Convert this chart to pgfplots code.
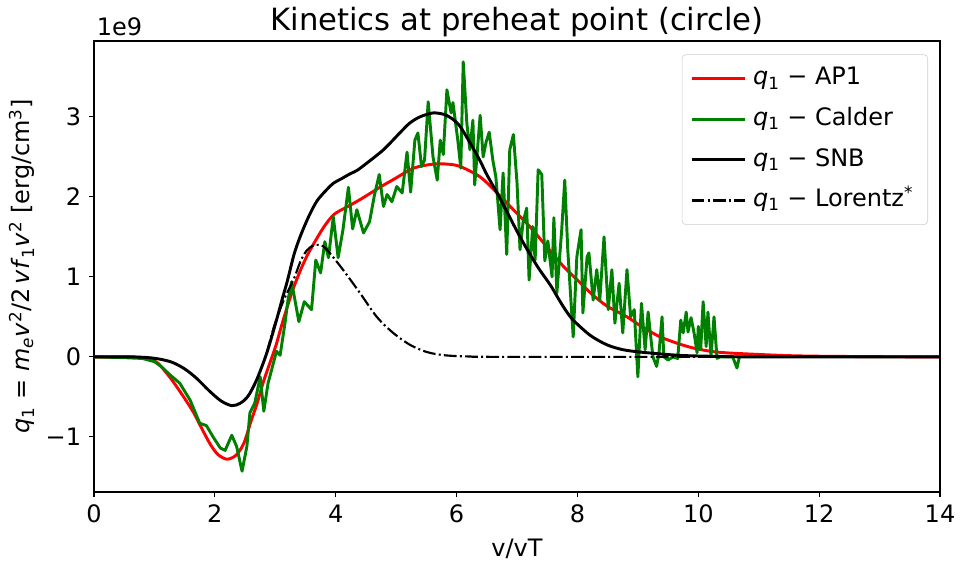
\documentclass[border=0pt]{standalone}
\usepackage{fontspec}
\setmainfont{DejaVu Sans}
\usepackage{pgfplots}
\pgfplotsset{compat=1.18}
\definecolor{mgreen}{RGB}{0,128,0}
\newcommand{\qone}{\textit{q}\textsubscript{1}}
\begin{document}
\fontsize{18}{21.6}\selectfont
\begin{tikzpicture}
\useasboundingbox (0,0) rectangle (724.5pt,424.5pt);
\begin{axis}[
 name=ax,
 at={(70.5pt,55.5pt)}, anchor=south west,
 scale only axis, width=634.5pt, height=338.25pt,
 xmin=0, xmax=14, ymin=-1.69, ymax=3.95,
 xtick={0,2,4,6,8,10,12,14}, xticklabels={0,2,4,6,8,10,12,14},
 ytick={-1,0,1,2,3}, yticklabels={−1,0,1,2,3},
 xtick pos=bottom, ytick pos=left,
 tick align=outside, major tick length=3.5pt,
 tick style={line width=0.8pt, black},
 axis line style={line width=0.8pt},
 tick label style={font=\fontsize{18}{21.6}\selectfont},
 xlabel={v/vT},
 ylabel={\qone{} = \textit{m}\textsubscript{\textit{e}}\textit{v}\textsuperscript{2}/2\,\textit{vf}\textsubscript{1}\textit{v}\textsuperscript{2} [erg/cm\textsuperscript{3}]},
 ylabel shift=-4pt,
 label style={font=\fontsize{18}{21.6}\selectfont},
 title={Kinetics at preheat point (circle)},
 title style={font=\fontsize{23}{27}\selectfont, yshift=-9pt},
 legend cell align=left,
 legend image code/.code={\draw[#1] (0pt,0pt) -- (40pt,0pt);},
 legend style={at={(1,1)}, anchor=north east, xshift=-9pt, yshift=-10pt,
   draw=black!20, rounded corners=3pt, fill=white, fill opacity=0.8, text opacity=1,
   font=\fontsize{18}{21.6}\selectfont, inner xsep=6pt, inner ysep=3pt, row sep=0pt,
   nodes={inner ysep=6pt, inner xsep=5pt, text height=13.8pt, text depth=4.6pt}},
 every axis plot/.append style={line join=round},
]
\addplot[red, line width=2.2pt, smooth, tension=0.5] coordinates {
(0,0) (0.5,0) (0.8,-0.01) (1.0,-0.05) (1.11,-0.12) (1.3,-0.3) (1.5,-0.52) (1.65,-0.7) (1.8,-0.92) (1.93,-1.1) (2.05,-1.22) (2.2,-1.28) (2.35,-1.23) (2.48,-1.08) (2.6,-0.8) (2.7,-0.58) (2.8,-0.32) (2.9,-0.1) (3.01,0.14) (3.1,0.38) (3.2,0.63) (3.3,0.86) (3.42,1.09) (3.53,1.27) (3.64,1.42) (3.8,1.62) (3.97,1.78) (4.2,1.88) (4.41,1.97) (4.73,2.12) (4.96,2.22) (5.29,2.36) (5.61,2.41) (5.85,2.41) (6.06,2.38) (6.39,2.25) (6.67,2.05) (6.94,1.84) (7.21,1.63) (7.49,1.38) (7.77,1.13) (8.0,0.96) (8.26,0.77) (8.5,0.63) (8.82,0.5) (9.1,0.36) (9.37,0.25) (9.65,0.17) (9.92,0.11) (10.2,0.07) (10.47,0.05) (11.0,0.03) (11.5,0.015) (12,0.008) (13,0.002) (14,0)
};
\addlegendentry{\qone{} − AP1}
\addplot[mgreen, line width=2.2pt] coordinates {
(0,0) (0.5,-0.01) (0.8,-0.02) (1.0,-0.06) (1.11,-0.12) (1.25,-0.22) (1.42,-0.33) (1.59,-0.54) (1.75,-0.83) (1.86,-0.86) (1.97,-1.0) (2.09,-1.14) (2.17,-1.17) (2.28,-0.98) (2.36,-1.12) (2.45,-1.43) (2.53,-1.12) (2.58,-0.70) (2.66,-0.58) (2.75,-0.25) (2.81,-0.68) (2.88,-0.33) (2.94,-0.16) (3.02,0.07) (3.08,0.02) (3.16,0.42) (3.21,0.71) (3.27,0.94) (3.39,0.44) (3.48,0.69) (3.6,0.59) (3.67,1.21) (3.75,1.05) (3.82,1.44) (3.88,1.24) (3.96,1.75) (4.04,1.24) (4.12,1.59) (4.21,2.12) (4.28,1.6) (4.35,1.84) (4.46,1.55) (4.56,1.69) (4.64,2.02) (4.72,2.28) (4.79,1.88) (4.85,2.03) (4.93,1.94) (5.01,2.13) (5.10,2.05) (5.18,2.56) (5.24,2.06) (5.31,2.71) (5.36,2.8) (5.42,2.38) (5.47,2.46) (5.53,3.19) (5.61,2.5) (5.68,2.21) (5.73,2.71) (5.78,2.53) (5.84,3.34) (5.91,3.05) (5.94,3.18) (6.02,2.71) (6.07,2.36) (6.11,3.69) (6.17,2.92) (6.22,2.59) (6.27,2.96) (6.30,2.15) (6.39,3.02) (6.44,2.5) (6.49,2.69) (6.54,2.81) (6.60,2.46) (6.65,2.25) (6.72,1.59) (6.77,2.3) (6.83,1.28) (6.88,2.59) (6.94,2.78) (7.0,2.18) (7.05,1.34) (7.10,1.68) (7.16,1.86) (7.20,0.96) (7.26,1.63) (7.30,1.21) (7.35,2.34) (7.41,2.28) (7.46,1.2) (7.51,1.45) (7.58,1.0) (7.61,1.74) (7.66,0.8) (7.74,1.59) (7.79,2.21) (7.84,1.34) (7.93,0.25) (7.99,1.25) (8.06,1.59) (8.09,0.55) (8.16,1.25) (8.19,1.3) (8.26,0.71) (8.32,1.09) (8.37,0.71) (8.44,1.5) (8.51,0.59) (8.57,1.09) (8.62,0.42) (8.69,0.92) (8.75,0.3) (8.82,1.09) (8.88,0.5) (8.94,0.59) (9.0,-0.25) (9.06,0.67) (9.12,0.09) (9.17,0.56) (9.22,0.2) (9.25,0.0) (9.31,-0.12) (9.35,0.05) (9.40,0.5) (9.43,0.0) (9.5,-0.04) (9.58,0.0) (9.66,-0.02) (9.71,0.46) (9.75,0.3) (9.80,0.56) (9.83,0.31) (9.88,0.49) (9.93,0.3) (9.98,0.05) (10.0,0.38) (10.04,0.09) (10.08,0.69) (10.13,0.13) (10.16,0.56) (10.21,0.0) (10.26,0.5) (10.31,-0.02) (10.36,0.0) (10.57,0.0) (10.64,-0.14) (10.68,0.0)
};
\addlegendentry{\qone{} − Calder}
\addplot[black, line width=2.2pt, smooth, tension=0.5] coordinates {
(0,0) (0.6,0) (0.9,-0.01) (1.1,-0.03) (1.3,-0.07) (1.5,-0.15) (1.7,-0.27) (1.9,-0.42) (2.1,-0.55) (2.28,-0.61) (2.42,-0.58) (2.55,-0.49) (2.69,-0.29) (2.86,0.05) (3.02,0.46) (3.11,0.71) (3.2,0.95) (3.31,1.28) (3.41,1.5) (3.55,1.75) (3.69,1.95) (3.85,2.09) (3.96,2.17) (4.1,2.23) (4.24,2.29) (4.35,2.33) (4.51,2.42) (4.79,2.59) (5.06,2.8) (5.22,2.92) (5.39,3.0) (5.61,3.05) (5.8,3.03) (5.94,2.97) (6.06,2.88) (6.22,2.68) (6.39,2.45) (6.5,2.28) (6.72,1.98) (7.05,1.5) (7.33,1.14) (7.55,0.9) (7.66,0.76) (7.79,0.6) (7.93,0.46) (8.21,0.27) (8.49,0.15) (8.75,0.09) (9.04,0.06) (9.48,0.03) (9.8,0.015) (10.5,0.003) (11,0) (14,0)
};
\addlegendentry{\qone{} − SNB}
\addplot[black, line width=1.6pt, smooth, tension=0.5, dash pattern=on 9.6pt off 2.4pt on 1.5pt off 2.4pt] coordinates {
(2.86,0.05) (2.98,0.38) (3.14,0.71) (3.31,0.98) (3.42,1.2) (3.52,1.33) (3.62,1.39) (3.71,1.40) (3.8,1.38) (3.9,1.3) (4.12,1.09) (4.4,0.8) (4.68,0.5) (4.95,0.3) (5.23,0.15) (5.51,0.06) (5.8,0.02) (6.2,0.005) (7,0) (14,0)
};
\addlegendentry{\qone{} − Lorentz\textsuperscript{*}}
\end{axis}
\node[anchor=south west, inner sep=0pt, font=\fontsize{18}{21.6}\selectfont] at ([xshift=2pt,yshift=4pt]ax.north west) {1e9};
\end{tikzpicture}
\end{document}
